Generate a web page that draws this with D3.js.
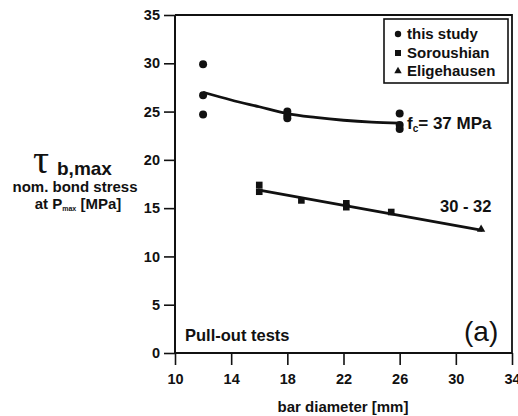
<!DOCTYPE html>
<html>
<head>
<meta charset="utf-8">
<script src="https://cdn.jsdelivr.net/npm/d3@7"></script>
<style>
  html, body { margin: 0; padding: 0; background: #fff; }
  svg text { font-family: "Liberation Sans", Arial, sans-serif; font-weight: bold; fill: #111; }
</style>
</head>
<body>
<svg id="chart" width="518" height="416"></svg>
<script>
// Bond stress data (bar diameter in mm, nominal bond stress in MPa)
const thisStudyX = [12, 12, 12, 18, 18, 18, 26, 26, 26];
const thisStudyY = [29.9, 26.7, 24.7, 25.0, 24.6, 24.3, 24.8, 23.6, 23.2];

const soroushianX = [16, 16, 19, 22.2, 22.2, 25.4];
const soroushianY = [17.4, 16.7, 15.8, 15.5, 15.1, 14.6];

const eligehausenX = [31.8];
const eligehausenY = [12.8];

// fitted curve for f'c = 37 MPa
const fitHighX = [12, 14, 16, 18, 20, 22, 24, 26];
const fitHighY = [27.0, 26.2, 25.5, 24.8, 24.4, 24.1, 23.9, 23.8];

// fitted line for f'c = 30 - 32 MPa
const fitLowX = [15.9, 31.9];
const fitLowY = [16.9, 12.7];

const xTicks = [10, 14, 18, 22, 26, 30, 34];
const yTicks = [0, 5, 10, 15, 20, 25, 30, 35];

const svg = d3.select("#chart");
const x = d3.scaleLinear().domain([10, 34]).range([175, 512]);
const y = d3.scaleLinear().domain([0, 35]).range([353, 15]);

// frame (top and right edges)
svg.append("path")
  .attr("d", `M${x(10)},${y(35)}H${x(34)}V${y(0)}`)
  .attr("fill", "none").attr("stroke", "#111").attr("stroke-width", 1.8);

// axes
const yAxis = svg.append("g").attr("transform", `translate(${x(10)},0)`)
  .call(d3.axisLeft(y).tickValues(yTicks).tickSize(11).tickPadding(4).tickFormat(d3.format("d")));
const xAxis = svg.append("g").attr("transform", `translate(0,${y(0)})`)
  .call(d3.axisBottom(x).tickValues(xTicks).tickSize(12).tickPadding(9).tickFormat(d3.format("d")));
[yAxis, xAxis].forEach(g => {
  g.select(".domain").attr("stroke", "#111").attr("stroke-width", 2);
  g.selectAll(".tick line").attr("stroke", "#111").attr("stroke-width", 1.6);
  g.selectAll(".tick text").attr("font-size", 14.5).attr("fill", "#111")
    .style("font-family", "'Liberation Sans', Arial, sans-serif").style("font-weight", "bold");
});
yAxis.select(".domain").attr("d", `M0,${y(0)}V${y(35)}`);
xAxis.select(".domain").attr("d", `M${x(10)},0H${x(34)}`);

// fitted curves
svg.append("path")
  .datum(d3.zip(fitHighX, fitHighY))
  .attr("d", d3.line().x(d => x(d[0])).y(d => y(d[1])).curve(d3.curveMonotoneX))
  .attr("fill", "none").attr("stroke", "#111").attr("stroke-width", 2.8);
svg.append("path")
  .datum(d3.zip(fitLowX, fitLowY))
  .attr("d", d3.line().x(d => x(d[0])).y(d => y(d[1])))
  .attr("fill", "none").attr("stroke", "#111").attr("stroke-width", 2.8);

// markers
svg.append("g").selectAll("circle")
  .data(d3.zip(thisStudyX, thisStudyY)).join("circle")
  .attr("cx", d => x(d[0])).attr("cy", d => y(d[1])).attr("r", 4).attr("fill", "#111");
svg.append("g").selectAll("rect")
  .data(d3.zip(soroushianX, soroushianY)).join("rect")
  .attr("x", d => x(d[0]) - 3.3).attr("y", d => y(d[1]) - 3.3)
  .attr("width", 6.6).attr("height", 6.6).attr("fill", "#111");
svg.append("g").selectAll("path")
  .data(d3.zip(eligehausenX, eligehausenY)).join("path")
  .attr("transform", d => `translate(${x(d[0])},${y(d[1])})`)
  .attr("d", d3.symbol().type(d3.symbolTriangle).size(30)).attr("fill", "#111");

// legend
const legend = svg.append("g");
legend.append("rect").attr("x", 384).attr("y", 19).attr("width", 124).attr("height", 64)
  .attr("fill", "#fff").attr("stroke", "#111").attr("stroke-width", 1.6);
const legendNames = ["this study", "Soroushian", "Eligehausen"];
const legendY = [34, 53, 71];
legendNames.forEach((name, i) => {
  const cy = legendY[i];
  if (i === 0) legend.append("circle").attr("cx", 398).attr("cy", cy).attr("r", 3.2).attr("fill", "#111");
  if (i === 1) legend.append("rect").attr("x", 395).attr("y", cy - 3).attr("width", 6).attr("height", 6).attr("fill", "#111");
  if (i === 2) legend.append("path").attr("transform", `translate(398,${cy})`)
    .attr("d", d3.symbol().type(d3.symbolTriangle).size(24)).attr("fill", "#111");
  legend.append("text").attr("x", 407).attr("y", cy + 5).attr("font-size", 15).text(name);
});

// curve labels
const fcLabel = svg.append("text").attr("x", 407).attr("y", 129).attr("font-size", 17);
fcLabel.append("tspan").text("f");
fcLabel.append("tspan").attr("font-size", 10).attr("dy", 3).text("c");
fcLabel.append("tspan").attr("dy", -3).text("= 37 MPa");
svg.append("text").attr("x", 440).attr("y", 212).attr("font-size", 16.5).text("30 - 32");

// panel notes
svg.append("text").attr("x", 185).attr("y", 341).attr("font-size", 16.5).text("Pull-out tests");
svg.append("text").attr("x", 464).attr("y", 341).attr("font-size", 28).style("font-weight", "normal").text("(a)");

// axis titles
svg.append("text").attr("x", 343).attr("y", 412).attr("text-anchor", "middle")
  .attr("font-size", 15).text("bar diameter [mm]");
svg.append("text").attr("x", 33).attr("y", 173)
  .style("font-family", "'Liberation Serif', 'DejaVu Serif', serif").style("font-weight", "normal")
  .attr("font-size", 40).text("τ");
svg.append("text").attr("x", 57).attr("y", 175).attr("font-size", 19).text("b,max");
svg.append("text").attr("x", 75).attr("y", 192).attr("text-anchor", "middle")
  .attr("font-size", 15).text("nom. bond stress");
const atP = svg.append("text").attr("x", 78).attr("y", 209).attr("text-anchor", "middle").attr("font-size", 15);
atP.append("tspan").text("at P");
atP.append("tspan").attr("font-size", 7).attr("dy", 2).text("max");
atP.append("tspan").attr("dy", -2).text(" [MPa]");
</script>
</body>
</html>
